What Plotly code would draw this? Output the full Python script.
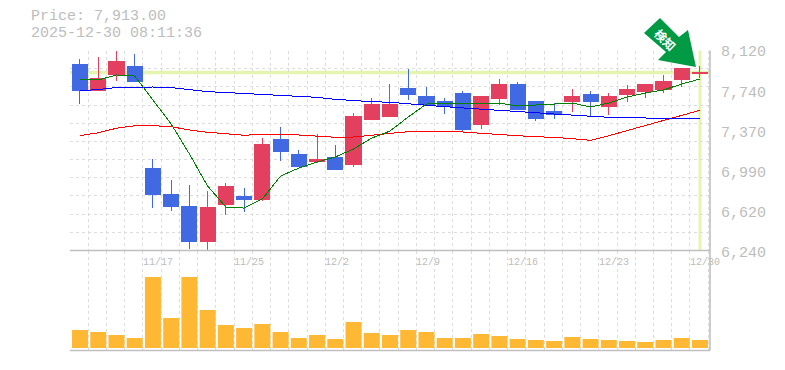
import plotly.graph_objects as go

W, H = 785, 370
# chart values
header_price = "Price: 7,913.00"
header_time = "2025-12-30 08:11:36"
date_ticks = {4: "11/17", 9: "11/25", 14: "12/2", 19: "12/9", 24: "12/16", 29: "12/23", 34: "12/30"}
price_ticks = [8120, 7740, 7370, 6990, 6620, 6240]

open_ = [7984, 7742, 7890, 7974, 7015, 6771, 6649, 6320, 6668, 6743, 6724, 7279, 7147, 7081, 7110, 7044, 7476, 7504, 7767, 7692, 7645, 7720, 7429, 7673, 7805, 7636, 7542, 7636, 7702, 7598, 7702, 7739, 7749, 7852, 7905]
close = [7742, 7861, 8012, 7833, 6762, 6649, 6329, 6640, 6846, 6724, 7241, 7175, 7034, 7100, 7006, 7495, 7608, 7617, 7711, 7617, 7598, 7382, 7683, 7805, 7570, 7485, 7523, 7692, 7636, 7692, 7749, 7796, 7833, 7955, 7913]
high = [8040, 8059, 8120, 8087, 7100, 6903, 6856, 6799, 6875, 6828, 7298, 7401, 7185, 7335, 7232, 7532, 7673, 7805, 7946, 7777, 7673, 7739, 7692, 7852, 7824, 7645, 7626, 7758, 7739, 7720, 7796, 7796, 7890, 7955, 7974]
low = [7617, 7742, 7836, 7824, 6640, 6611, 6254, 6245, 6574, 6602, 6705, 7081, 7025, 7062, 6997, 7025, 7467, 7495, 7655, 7608, 7523, 7363, 7382, 7608, 7570, 7457, 7476, 7542, 7495, 7514, 7636, 7673, 7720, 7777, 7861]
ma5 = [7843, 7843, 7890, 7880, 7655, 7429, 7147, 6846, 6649, 6639, 6724, 6940, 7015, 7072, 7119, 7194, 7297, 7363, 7495, 7617, 7626, 7626, 7626, 7626, 7598, 7608, 7617, 7626, 7589, 7626, 7683, 7720, 7749, 7805, 7852]
ma25 = [7742, 7753, 7772, 7777, 7777, 7772, 7749, 7733, 7725, 7716, 7708, 7697, 7686, 7680, 7661, 7648, 7639, 7633, 7617, 7605, 7592, 7580, 7567, 7554, 7548, 7535, 7523, 7511, 7501, 7492, 7488, 7483, 7483, 7483, 7483]
ma75 = [7319, 7347, 7389, 7413, 7413, 7404, 7373, 7351, 7338, 7323, 7332, 7335, 7326, 7313, 7304, 7307, 7323, 7342, 7357, 7360, 7360, 7354, 7342, 7328, 7319, 7309, 7304, 7291, 7276, 7319, 7366, 7413, 7460, 7504, 7558]
volume = [180, 160, 130, 100, 710, 300, 710, 380, 230, 200, 240, 160, 100, 130, 90, 260, 150, 130, 180, 160, 100, 100, 140, 120, 90, 80, 70, 110, 90, 80, 70, 60, 80, 100, 80]

RED, BLUE = "#e3405f", "#4169e1"
GRID, AXIS, TXT = "#dddddd", "#c0c0c0", "#bdbdbd"
LIME = "#e4f5b0"
FONT = "Liberation Mono"
xs = list(range(len(close)))

def px(v): return v / W
def py(v): return 1 - v / H

fig = go.Figure()
for vals, col in ((ma75, "#ff0000"), (ma25, "#0000ff"), (ma5, "#008000")):
    fig.add_trace(go.Scatter(x=xs, y=vals, mode="lines", line=dict(color=col, width=1), hoverinfo="skip", showlegend=False))
fig.add_trace(go.Candlestick(x=xs, open=open_, high=high, low=low, close=close, whiskerwidth=0,
    increasing=dict(line=dict(color=RED, width=1), fillcolor=RED),
    decreasing=dict(line=dict(color=BLUE, width=1), fillcolor=BLUE), showlegend=False))
fig.add_trace(go.Bar(x=xs, y=volume, xaxis="x2", yaxis="y2", marker=dict(color="#ffb833", line=dict(width=0)), width=0.877, showlegend=False))

x0, x1 = -0.548, 34.55
xcommon = dict(range=[x0, x1], tick0=x0, dtick=1, tickmode="linear", showgrid=True, gridcolor=GRID, griddash="3px,3px", gridwidth=1,
               showticklabels=False, ticks="", zeroline=False, showline=False)
dom_x = [px(70), px(710)]
fig.update_layout(
    width=W, height=H, margin=dict(l=0, r=0, t=0, b=0), paper_bgcolor="white", plot_bgcolor="white", showlegend=False, boxgap=0.17, boxgroupgap=0,
    xaxis=dict(domain=dom_x, anchor="y", rangeslider=dict(visible=False), **xcommon),
    xaxis2=dict(domain=dom_x, anchor="y2", **xcommon),
    yaxis=dict(domain=[py(250.5), py(50.5)], range=[6240, 8120], tick0=6240, dtick=1880 / 11, tickmode="linear", showgrid=True, gridcolor=GRID,
               griddash="3px,3px", showticklabels=False, ticks="", zeroline=False),
    yaxis2=dict(domain=[py(350.5), py(250.5)], range=[-25, 975], showgrid=False, showticklabels=False, ticks="", zeroline=False),
)

# reference lines at the last price / last session, below the marks
shapes = [
    dict(type="line", xref="paper", yref="y", x0=px(70), x1=px(710), y0=close[-1], y1=close[-1], line=dict(color=LIME, width=3.5), layer="between"),
    dict(type="line", xref="x", yref="paper", x0=xs[-1], x1=xs[-1], y0=py(250.5), y1=py(50.5), line=dict(color=LIME, width=3), layer="between"),
    dict(type="line", xref="paper", yref="paper", x0=px(70), x1=px(710), y0=py(250.5), y1=py(250.5), line=dict(color=AXIS, width=1.6)),
    dict(type="line", xref="paper", yref="paper", x0=px(70), x1=px(710), y0=py(350.5), y1=py(350.5), line=dict(color=AXIS, width=1.6)),
    dict(type="line", xref="paper", yref="paper", x0=px(710), x1=px(710), y0=py(350.5), y1=py(50.5), line=dict(color=AXIS, width=1.6)),
]
arrow = [(660, 18), (679, 37), (688, 30), (696, 67), (658, 60), (666, 52), (644, 33)]
path = "M " + " L ".join(f"{px(a):.5f},{py(b):.5f}" for a, b in arrow) + " Z"
shapes.append(dict(type="path", xref="paper", yref="paper", path=path, fillcolor="#009944", line=dict(width=0)))

ann = [
    dict(text=header_price, x=px(30), y=py(17), xanchor="left", yanchor="middle", font=dict(family=FONT, size=15, color=TXT)),
    dict(text=header_time, x=px(30), y=py(34), xanchor="left", yanchor="middle", font=dict(family=FONT, size=15, color=TXT)),
    dict(text="<b>検知</b>", x=px(666), y=py(39), textangle=45, xanchor="center", yanchor="middle", font=dict(family="Noto Sans CJK JP", size=12, color="white")),
]
for i, v in enumerate(price_ticks):
    ann.append(dict(text=f"{v:,}", x=px(720), y=py(53 + i * 40), xanchor="left", yanchor="middle", font=dict(family=FONT, size=15, color=TXT)))
for i, t in date_ticks.items():
    ann.append(dict(text=t, x=80 / W + i * 18.235 / W, y=py(262), xanchor="left", xshift=-11, yanchor="middle", font=dict(family=FONT, size=10, color=TXT)))
for a in ann:
    a.update(xref="paper", yref="paper", showarrow=False, borderpad=0)
fig.update_layout(shapes=shapes, annotations=ann)
crisp = "document.body.style.margin='0';document.querySelectorAll('.js-line,.boxes path').forEach(function(p){p.style.shapeRendering='crispEdges';});"
fig.write_html("out.html", post_script=crisp, config=dict(displayModeBar=False))
